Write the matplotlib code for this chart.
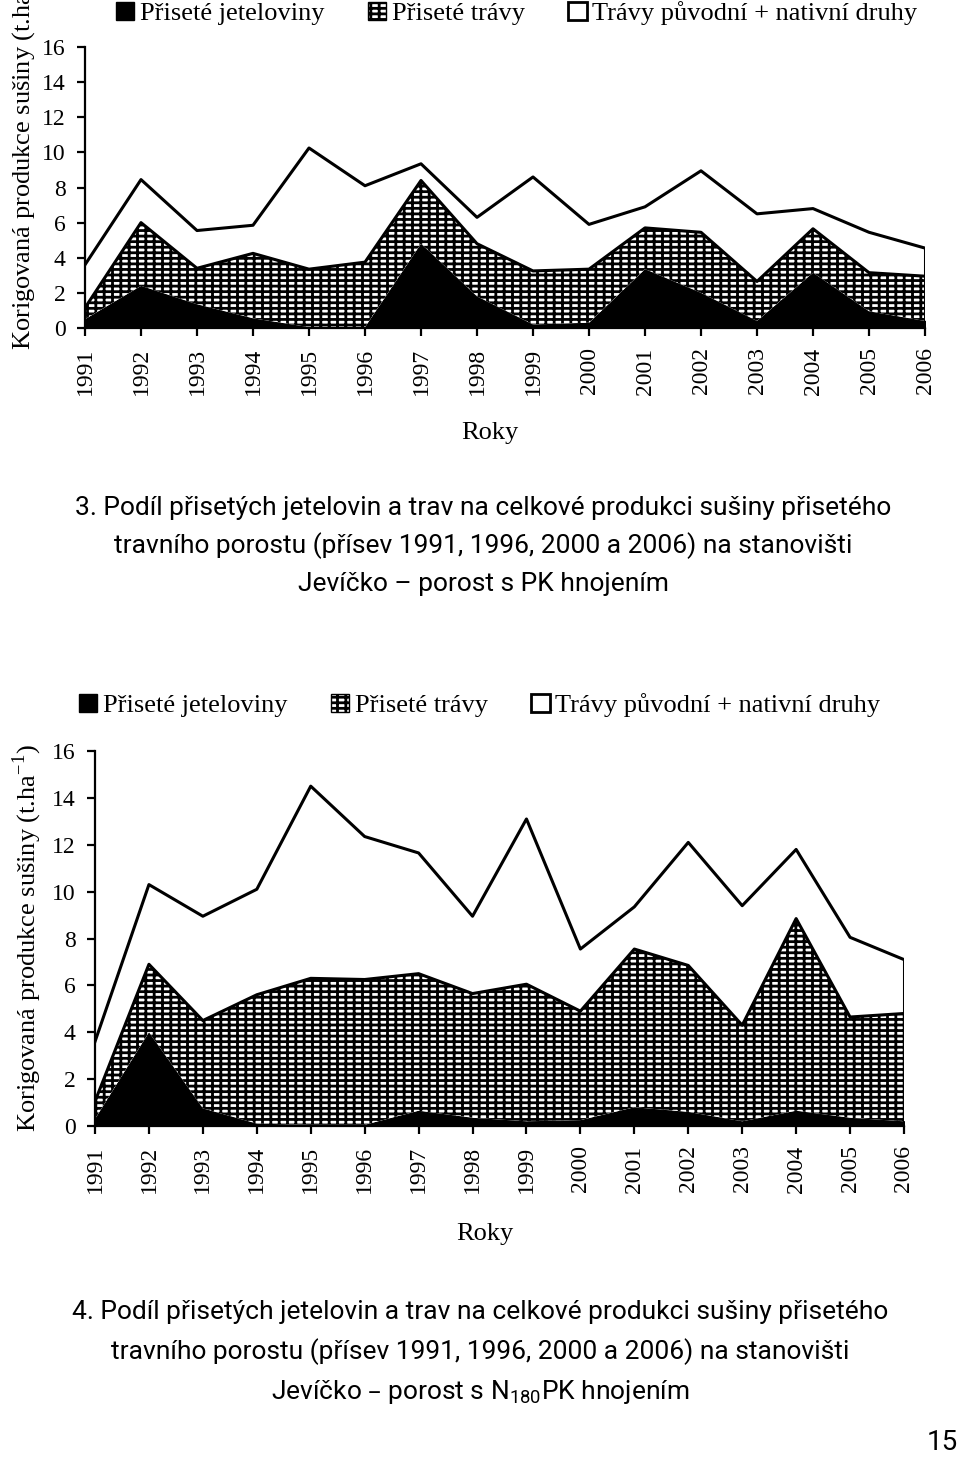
import numpy as np
import matplotlib.pyplot as plt
from matplotlib.patches import Patch

plt.rcParams['font.family'] = ['Liberation Serif', 'DejaVu Serif']
plt.rcParams['hatch.linewidth'] = 2.0

years = list(range(1991, 2007))

# graf 3 - porost s PK hnojenim
clover_pk = [0.5, 2.4, 1.35, 0.55, 0.05, 0.05, 4.8, 1.8, 0.2, 0.3, 3.35, 2.0, 0.4, 3.15, 0.95, 0.4]
sown_pk = [0.65, 3.6, 2.05, 3.7, 3.3, 3.7, 3.6, 3.0, 3.05, 3.05, 2.35, 3.45, 2.25, 2.5, 2.2, 2.55]
native_pk = [2.45, 2.45, 2.15, 1.6, 6.9, 4.35, 0.95, 1.5, 5.35, 2.55, 1.2, 3.5, 3.85, 1.15, 2.3, 1.6]

# graf 4 - porost s N180PK hnojenim
clover_npk = [0.3, 4.0, 0.75, 0.1, 0.05, 0.05, 0.65, 0.35, 0.2, 0.25, 0.8, 0.6, 0.2, 0.65, 0.35, 0.2]
sown_npk = [0.75, 2.9, 3.75, 5.5, 6.25, 6.2, 5.85, 5.3, 5.85, 4.65, 6.75, 6.25, 4.1, 8.2, 4.3, 4.6]
native_npk = [2.55, 3.4, 4.45, 4.5, 8.2, 6.1, 5.15, 3.3, 7.05, 2.65, 1.8, 5.25, 5.1, 2.95, 3.4, 2.3]

labels = ['Přiseté jeteloviny', 'Přiseté trávy', 'Trávy původní + nativní druhy']
ylabel = r'Korigovaná produkce sušiny (t.ha$^{\mathregular{-1}}$)'
caption_pk = ['3. Podíl přisetých jetelovin a trav na celkové produkci sušiny přisetého',
              'travního porostu (přísev 1991, 1996, 2000 a 2006) na stanovišti',
              'Jevíčko – porost s PK hnojením']
caption_npk = ['4. Podíl přisetých jetelovin a trav na celkové produkci sušiny přisetého',
               'travního porostu (přísev 1991, 1996, 2000 a 2006) na stanovišti',
               r'Jevíčko – porost s N$_{\mathregular{180}}$PK hnojením']

W, H = 960, 1457
fig = plt.figure(figsize=(9.6, 14.57), dpi=100)
cap_font = ['Roboto', 'DejaVu Sans']
fs = 19


def draw(ax, clover, sown, native):
    c = np.array(clover)
    g = c + np.array(sown)
    t = g + np.array(native)
    ax.fill_between(years, 0, c, facecolor='black', edgecolor='black', lw=1)
    ax.fill_between(years, c, g, facecolor='white', edgecolor='black', hatch='---||', lw=0)
    ax.plot(years, g, color='black', lw=2.2)
    ax.plot(years, t, color='black', lw=2.2)
    ax.plot([years[-1], years[-1]], [0, t[-1]], color='black', lw=2.2)
    ax.set_xlim(years[0], years[-1])
    ax.set_ylim(0, 16)
    ax.set_yticks(range(0, 17, 2))
    ax.set_xticks(years)
    ax.set_xticklabels([str(y) for y in years], rotation=90)
    for s in ['top', 'right']:
        ax.spines[s].set_visible(False)
    for s in ['left', 'bottom']:
        ax.spines[s].set_linewidth(1.6)
    ax.tick_params(direction='out', length=6, width=1.6, pad=8, labelsize=17)


def px(x, y):
    return x / W, 1 - y / H


handles = [Patch(facecolor='black', edgecolor='black'),
           Patch(facecolor='white', edgecolor='black', hatch='---||'),
           Patch(facecolor='white', edgecolor='black', lw=2)]

# horni graf
ax1 = fig.add_axes([85 / W, 1 - 328 / H, 840 / W, 281 / H])
draw(ax1, clover_pk, sown_pk, native_pk)
fig.legend(handles, labels, loc='center left', bbox_to_anchor=px(116, 13), ncol=3,
           frameon=False, fontsize=fs, handlelength=0.7, handleheight=0.7,
           handletextpad=0.2, columnspacing=1.65, borderpad=0, borderaxespad=0)
fig.text(*px(22, 156), ylabel, rotation=90, ha='center', va='center', fontsize=fs)
fig.text(*px(490, 433), 'Roky', ha='center', va='center', fontsize=fs)
for i, line in enumerate(caption_pk):
    fig.text(*px(483, 508 + 38 * i), line, ha='center', va='center', fontsize=19,
             family=cap_font)

# dolni graf
ax2 = fig.add_axes([95 / W, 1 - 1126 / H, 809 / W, 375 / H])
draw(ax2, clover_npk, sown_npk, native_npk)
fig.legend(handles, labels, loc='center left', bbox_to_anchor=px(79, 705), ncol=3,
           frameon=False, fontsize=fs, handlelength=0.7, handleheight=0.7,
           handletextpad=0.2, columnspacing=1.65, borderpad=0, borderaxespad=0)
fig.text(*px(27, 938), ylabel, rotation=90, ha='center', va='center', fontsize=fs)
fig.text(*px(485, 1234), 'Roky', ha='center', va='center', fontsize=fs)
for i, line in enumerate(caption_npk):
    fig.text(*px(480, 1312 + 40 * i), line, ha='center', va='center', fontsize=19,
             family=cap_font)

fig.text(*px(958, 1443), '15', ha='right', va='center', fontsize=20, family=cap_font)

fig.savefig('out.png', dpi=100)
